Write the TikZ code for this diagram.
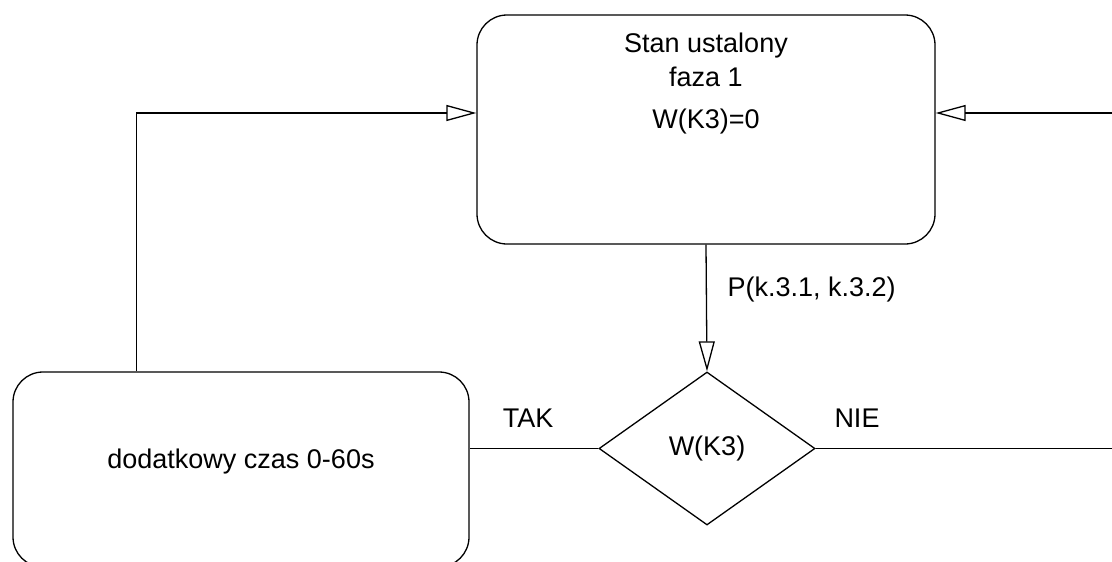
\documentclass[tikz,border=0pt]{standalone}
\usepackage{fontspec}
\setmainfont{Liberation Sans}
\usetikzlibrary{positioning}
\usetikzlibrary{shapes.geometric}
\usetikzlibrary{arrows.meta}

\tikzset{
  blok/.style={draw, rounded corners=30pt, inner sep=0pt},
  arr/.style={-{Triangle[open,length=30pt,width=16pt]}},
}

\begin{document}
\begin{tikzpicture}[x=1pt,y=-1pt,line width=1.3pt,font=\fontsize{27}{34}\selectfont]
  \useasboundingbox (0,0) rectangle (1112,562);
  \clip (0,0) rectangle (1112,562);

  % stan ustalony
  \node[blok, minimum width=458pt, minimum height=229pt] (stan) at (706,129.5) {};
  \node[align=center] (stantxt) at (706,60) {Stan ustalony\\faza 1};
  \node (stanw) at (706,122) {W(K3)=0};

  % warunek
  \node[draw, diamond, minimum width=216pt, minimum height=153pt, inner sep=0pt] (wk3) at (707,448.5) {W(K3)};

  % dodatkowy czas
  \node[blok, minimum width=456pt, minimum height=195pt] (czas) at (241,469.5) {};
  \node (czastxt) at (241,462) {dodatkowy czas 0-60s};

  % polaczenia
  \coordinate (p1) at (1112,113);
  \coordinate (p2) at (1112,448.5);
  \draw[arr] (stan.south) -- (wk3.north);
  \draw (wk3.west) -- (wk3.west -| czas.east);
  \draw[arr] ([xshift=124pt]czas.north west) |- ([yshift=16.5pt]stan.west);
  \draw[arr] (p1) -- (p1 -| stan.east);
  \draw (wk3.east) -- (p2);

  % opisy
  \node[anchor=west, inner sep=0pt] (pk) at (727,290) {P(k.3.1, k.3.2)};
  \node (tak) at (528,418) {TAK};
  \node (nie) at (857,418) {NIE};
\end{tikzpicture}
\end{document}
